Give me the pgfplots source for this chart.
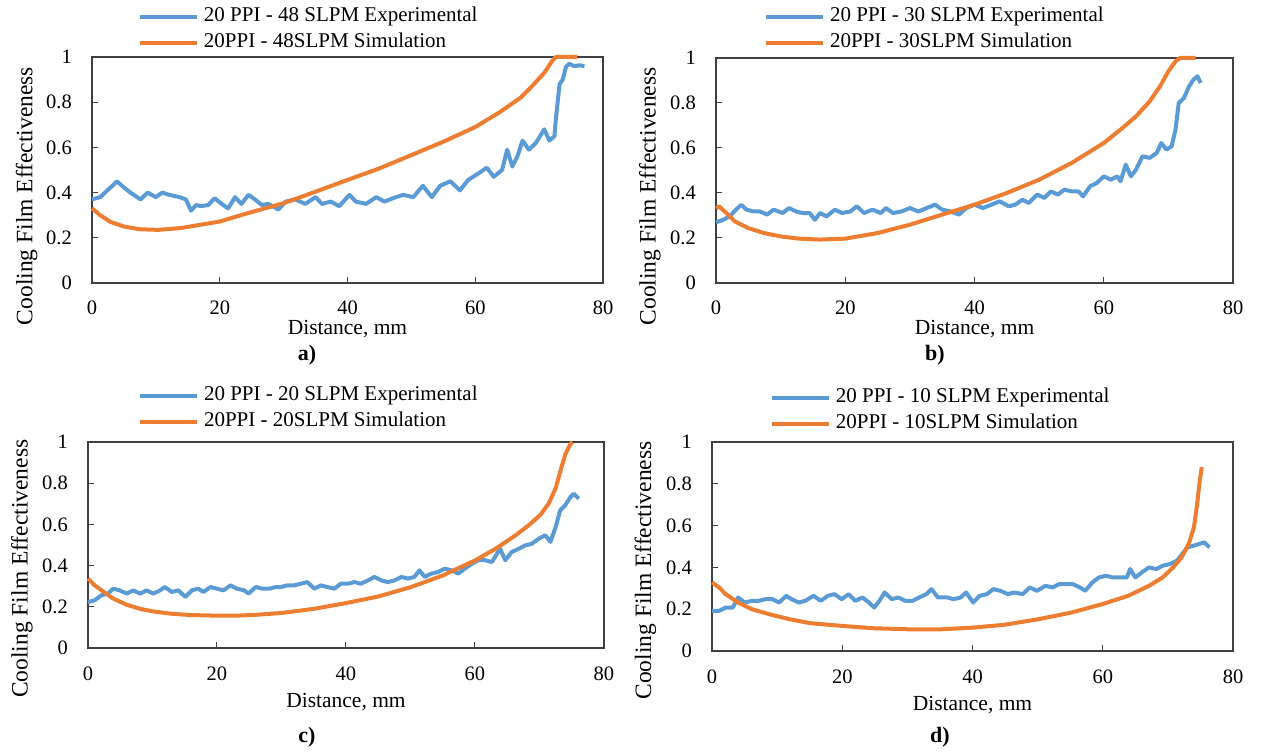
\documentclass[border=0pt]{standalone}
\usepackage{pgfplots}
\pgfplotsset{compat=1.18}
\usepackage{fontspec}
\setmainfont{Liberation Serif}
\definecolor{cblue}{HTML}{5B9BD5}
\definecolor{corange}{HTML}{ED7D31}
\definecolor{axgray}{HTML}{404040}

\pgfplotsset{
  panel/.style={
    scale only axis,
    anchor=south west,
    xmin=0, xmax=80, ymin=0, ymax=1,
    xtick={0,20,40,60,80},
    ytick={0,0.2,0.4,0.6,0.8,1},
    tick align=inside,
    tick pos=left,
    major tick length=6pt,
    tick style={draw=axgray, line width=1pt},
    axis line style={draw=axgray, line width=1.4pt},
    /pgf/number format/assume math mode=true,
    ticklabel style={font=\fontsize{20.5}{24}\selectfont},
    xticklabel style={anchor=base, yshift=-32pt, inner sep=0pt},
    yticklabel style={anchor=east, xshift=-20pt, inner sep=0pt},
    xlabel={Distance, mm},
    ylabel={Cooling Film Effectiveness},
    xlabel style={font=\fontsize{21.5}{24}\selectfont, anchor=base},
    ylabel style={font=\fontsize{23.5}{26}\selectfont, anchor=center, at={(axis description cs:-0.128,0.385)}},
    clip=false,
    legend cell align=left,
    legend image code/.code={\draw[#1] (0pt,0pt) -- (57pt,0pt);},
    legend style={draw=none, fill=none, inner sep=0pt, outer sep=0pt,
      anchor=west, column sep=5pt, row sep=7pt,
      font=\fontsize{21}{24}\selectfont,
      nodes={inner sep=0pt, text height=14pt, text depth=5pt}},
  },
  exp/.style={cblue, line width=4pt, line join=round},
  sim/.style={corange, line width=4pt, line join=round},
}

\begin{document}
\begin{tikzpicture}[x=1pt,y=1pt]
\path[use as bounding box] (0,0) rectangle (1261,753);

% ---------------- a) ----------------
\begin{axis}[panel, at={(92pt,470pt)}, width=511pt, height=226pt,
  xlabel style={at={(axis description cs:0.5,-0.228)}},
  legend style={at={(axis description cs:0.09,1.1186)}}]
\addplot[exp] coordinates {
(0,0.37)(1.3,0.38)(2.4,0.41)(3.2,0.43)(3.9,0.45)(4.7,0.43)(6,0.40)(7.6,0.37)(8.7,0.40)(10,0.38)
(11,0.40)(12.1,0.39)(13.7,0.38)(14.7,0.37)(15.5,0.32)(16.3,0.345)(17.1,0.34)(18.2,0.345)(19.2,0.375)(20.3,0.35)
(21.3,0.33)(22.4,0.38)(23.4,0.35)(24.5,0.39)(25.5,0.37)(26.6,0.345)(27.6,0.35)(29.2,0.325)(30.3,0.36)(31.8,0.37)
(33.4,0.35)(35,0.38)(36,0.35)(37.4,0.36)(38.7,0.34)(40.3,0.39)(41.3,0.36)(42.9,0.35)(44.5,0.38)(45.8,0.36)
(47.1,0.375)(48.7,0.39)(50.3,0.38)(51.8,0.43)(53.2,0.38)(54.5,0.43)(56.1,0.45)(57.6,0.41)(58.9,0.456)(60.5,0.485)
(61.8,0.51)(62.9,0.47)(64.2,0.50)(65,0.59)(65.8,0.515)(66.6,0.56)(67.4,0.63)(68.4,0.59)(69.5,0.62)(70.8,0.68)
(71.6,0.63)(72.4,0.65)(72.6,0.72)(73.2,0.88)(73.7,0.90)(74.2,0.956)(74.7,0.97)(75.5,0.96)(76.3,0.963)(77.1,0.96)
};
\addlegendentry{20 PPI - 48 SLPM Experimental}
\addplot[sim] coordinates {
(0,0.33)(1.3,0.30)(2.9,0.27)(5,0.25)(7.4,0.238)(10.3,0.235)(13.9,0.243)(20,0.272)(24.5,0.31)(30,0.353)
(35,0.404)(40,0.456)(45,0.507)(50,0.566)(55,0.625)(60,0.69)(63.9,0.757)(67.1,0.82)(69.2,0.88)(70.8,0.93)
(72.1,0.985)(72.6,1.0)(76,1.0)
};
\addlegendentry{20PPI - 48SLPM Simulation}
\end{axis}

% ---------------- b) ----------------
\begin{axis}[panel, at={(716pt,470pt)}, width=517pt, height=225pt,
  xlabel style={at={(axis description cs:0.5,-0.229)}},
  legend style={at={(axis description cs:0.093,1.1236)}}]
\addplot[exp] coordinates {
(0,0.27)(1.05,0.28)(2.1,0.296)(2.9,0.32)(3.9,0.348)(4.7,0.326)(5.8,0.318)(6.8,0.318)(7.9,0.304)(8.9,0.326)
(10.3,0.311)(11.3,0.333)(12.4,0.318)(13.4,0.311)(14.5,0.311)(15.3,0.281)(16.1,0.311)(17.1,0.296)(18.4,0.326)(19.5,0.311)
(20.8,0.318)(21.8,0.341)(22.9,0.311)(24.2,0.326)(25.5,0.311)(26.3,0.333)(27.4,0.311)(28.7,0.318)(30,0.333)(31.3,0.318)
(32.6,0.333)(33.9,0.348)(35,0.326)(36.3,0.318)(37.6,0.304)(38.7,0.333)(40,0.348)(41.3,0.333)(42.6,0.348)(43.9,0.363)
(45.3,0.341)(46.3,0.348)(47.4,0.37)(48.4,0.356)(49.7,0.393)(50.8,0.378)(51.8,0.407)(52.9,0.393)(53.9,0.415)(55,0.407)
(56.1,0.407)(56.8,0.385)(57.9,0.43)(58.9,0.444)(60,0.474)(61.1,0.459)(62.1,0.474)(62.6,0.452)(63.4,0.526)(64.2,0.474)
(65,0.504)(66,0.563)(67.1,0.556)(68.2,0.578)(68.9,0.622)(69.7,0.593)(70.5,0.607)(71.1,0.681)(71.6,0.80)(72.4,0.822)
(73.2,0.874)(73.9,0.904)(74.5,0.919)(75,0.889)
};
\addlegendentry{20 PPI - 30 SLPM Experimental}
\addplot[sim] coordinates {
(0,0.333)(0.5,0.34)(1.6,0.311)(2.9,0.274)(5,0.244)(7.4,0.222)(10,0.207)(12.9,0.197)(16,0.193)(20,0.197)
(25,0.222)(30,0.259)(35,0.304)(40,0.348)(45,0.40)(50,0.459)(55,0.533)(60,0.622)(62.9,0.689)(65,0.741)
(67.1,0.807)(68.7,0.874)(70,0.941)(71.1,0.985)(71.8,1.0)(74.2,1.0)
};
\addlegendentry{20PPI - 30SLPM Simulation}
\end{axis}

% ---------------- c) ----------------
\begin{axis}[panel, at={(88pt,105pt)}, width=516pt, height=206pt,
  xlabel style={at={(axis description cs:0.5,-0.287)}},
  legend style={at={(axis description cs:0.097,1.158)}}]
\addplot[exp] coordinates {
(0,0.223)(1,0.231)(2.1,0.256)(3.1,0.264)(3.9,0.288)(4.9,0.28)(6,0.264)(7,0.28)(8.1,0.264)(9.1,0.28)
(10.1,0.264)(11.2,0.28)(11.9,0.296)(13,0.272)(14,0.28)(15.1,0.248)(16.1,0.28)(17.1,0.288)(17.9,0.272)(19,0.296)
(20,0.288)(21,0.28)(22.1,0.304)(23.1,0.288)(24.2,0.28)(24.9,0.264)(26,0.296)(27,0.288)(28.1,0.288)(29.1,0.296)
(29.9,0.296)(30.9,0.304)(31.9,0.304)(33,0.312)(34,0.32)(35.1,0.288)(36.1,0.304)(37.1,0.296)(38.2,0.288)(39.2,0.312)
(40.3,0.312)(41.3,0.32)(42.3,0.312)(43.4,0.328)(44.4,0.345)(45.5,0.328)(46.5,0.32)(47.5,0.328)(48.6,0.345)(49.6,0.337)
(50.6,0.345)(51.4,0.377)(52.2,0.345)(53.2,0.361)(54.3,0.369)(55.3,0.385)(56.4,0.377)(57.4,0.361)(58.4,0.385)(59.5,0.409)
(60.5,0.426)(61.6,0.426)(62.6,0.417)(63.9,0.482)(64.7,0.426)(65.7,0.466)(66.8,0.482)(67.8,0.498)(68.8,0.506)(69.9,0.531)
(70.9,0.547)(71.7,0.515)(72.5,0.587)(73.2,0.668)(74,0.693)(74.8,0.733)(75.3,0.749)(76.1,0.725)
};
\addlegendentry{20 PPI - 20 SLPM Experimental}
\addplot[sim] coordinates {
(0,0.337)(1,0.305)(2.1,0.28)(3.9,0.24)(6,0.21)(8.1,0.19)(10,0.178)(12.7,0.167)(15.8,0.16)(20,0.157)
(23,0.157)(26,0.161)(30,0.17)(35,0.19)(40,0.218)(45,0.25)(50,0.295)(55,0.352)(60,0.425)(63.1,0.48)
(66.2,0.545)(68.3,0.595)(70.1,0.645)(71.4,0.7)(72.5,0.775)(73.2,0.855)(74,0.94)(74.8,0.99)(75.1,1.0)
};
\addlegendentry{20PPI - 20SLPM Simulation}
\end{axis}

% ---------------- d) ----------------
\begin{axis}[panel, at={(712pt,102pt)}, width=521pt, height=209pt,
  xlabel style={at={(axis description cs:0.5,-0.285)}},
  legend style={at={(axis description cs:0.111,1.149)}}]
\addplot[exp] coordinates {
(0,0.192)(1.1,0.192)(2.1,0.208)(3.2,0.208)(4,0.256)(5,0.232)(6.1,0.24)(7.2,0.24)(8.2,0.248)(9.3,0.248)
(10.3,0.232)(11.4,0.264)(12.2,0.248)(13.3,0.232)(14.3,0.24)(15.6,0.264)(16.7,0.24)(17.8,0.264)(18.8,0.272)(19.9,0.248)
(21,0.272)(22,0.24)(23.1,0.256)(24.1,0.232)(24.9,0.208)(25.7,0.24)(26.5,0.28)(27.6,0.248)(28.6,0.256)(29.7,0.24)
(30.8,0.24)(31.8,0.256)(32.9,0.272)(33.7,0.296)(34.7,0.256)(36.1,0.256)(37.1,0.248)(38.2,0.256)(39,0.28)(40.1,0.232)
(41.1,0.264)(42.2,0.272)(43.2,0.296)(44.3,0.288)(45.4,0.272)(46.4,0.28)(47.7,0.272)(48.8,0.304)(49.9,0.288)(51.2,0.312)
(52.3,0.304)(53.3,0.32)(54.4,0.32)(55.4,0.32)(56.5,0.304)(57.3,0.288)(58.4,0.328)(59.4,0.352)(60.5,0.36)(61.5,0.352)
(62.6,0.352)(63.7,0.352)(64.2,0.392)(65,0.352)(66,0.376)(67.1,0.40)(68.2,0.392)(69.2,0.408)(70.3,0.416)(71.4,0.432)
(72.2,0.464)(73,0.496)(74,0.504)(74.8,0.512)(75.6,0.52)(76.1,0.504)(76.4,0.496)
};
\addlegendentry{20 PPI - 10 SLPM Experimental}
\addplot[sim] coordinates {
(0,0.328)(1.1,0.304)(2.1,0.272)(4,0.232)(6.1,0.20)(8.8,0.176)(11.9,0.152)(15.1,0.133)(20,0.12)(24.7,0.109)
(30,0.104)(35.3,0.104)(40.1,0.112)(44.8,0.125)(50.1,0.152)(55.2,0.184)(59.9,0.224)(63.9,0.264)(67.1,0.312)(69.2,0.352)
(70.8,0.40)(72.1,0.448)(73.2,0.512)(74,0.592)(74.5,0.704)(74.9,0.816)(75.2,0.88)
};
\addlegendentry{20PPI - 10SLPM Simulation}
\end{axis}

% sub-figure labels
\node[font=\bfseries\fontsize{22}{24}\selectfont, anchor=base] at (307,392) {a)};
\node[font=\bfseries\fontsize{22}{24}\selectfont, anchor=base] at (935,392) {b)};
\node[font=\bfseries\fontsize{22}{24}\selectfont, anchor=base] at (307,11) {c)};
\node[font=\bfseries\fontsize{22}{24}\selectfont, anchor=base] at (940,11) {d)};
\end{tikzpicture}
\end{document}
